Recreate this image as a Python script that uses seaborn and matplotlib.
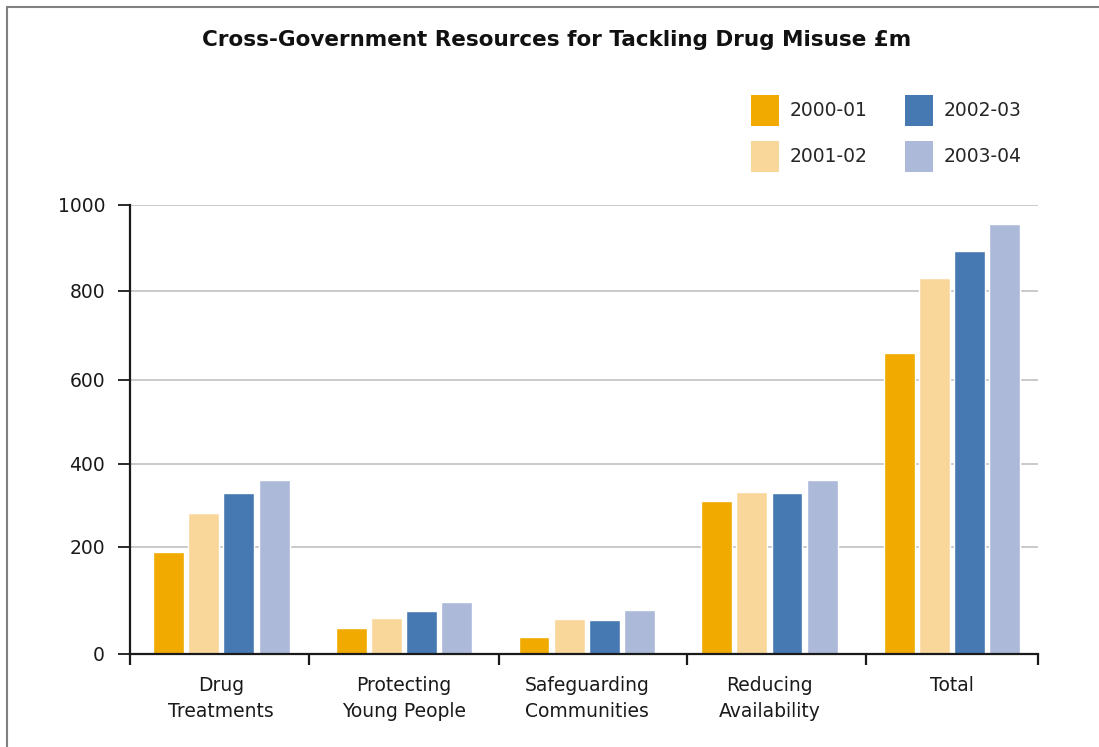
import numpy as np
import pandas as pd
import matplotlib
matplotlib.use("Agg")
import matplotlib.pyplot as plt
import seaborn as sns
from matplotlib.patches import Patch
from matplotlib.lines import Line2D

# ---- data ----
categories = ["Drug\nTreatments", "Protecting\nYoung People", "Safeguarding\nCommunities",
              "Reducing\nAvailability", "Total"]
years = ["2000-01", "2001-02", "2002-03", "2003-04"]
v_2000_01 = [190, 48, 31, 310, 660]
v_2001_02 = [280, 66, 64, 332, 830]
v_2002_03 = [330, 79, 63, 330, 893]
v_2003_04 = [360, 96, 81, 360, 955]
colors = ["#F0AA00", "#F9D79B", "#4678B2", "#ADB9D9"]
y_ticks = [0, 200, 400, 600, 800, 1000]
title = "Cross-Government Resources for Tackling Drug Misuse £m"

# the reference's value axis is drawn with uneven gridline spacing
grid_pos = [0, 107, 190, 274, 363, 448.5]
# group divider tick positions as drawn in the reference
dividers = [-0.5, 0.48, 1.52, 2.55, 3.53, 4.47]

series = [v_2000_01, v_2001_02, v_2002_03, v_2003_04]
df = pd.DataFrame({
    "category": [c for s in series for c in categories],
    "year": [y for y, s in zip(years, series) for _ in s],
    "value": [v for s in series for v in s],
})


def _pw(x, xs, ys):
    x = np.asarray(x, float)
    y = np.interp(x, xs, ys)
    s0 = (ys[1] - ys[0]) / (xs[1] - xs[0])
    s1 = (ys[-1] - ys[-2]) / (xs[-1] - xs[-2])
    y = np.where(x < xs[0], ys[0] + (x - xs[0]) * s0, y)
    y = np.where(x > xs[-1], ys[-1] + (x - xs[-1]) * s1, y)
    return y


def fwd(v):
    return _pw(v, y_ticks, grid_pos)


def inv(p):
    return _pw(p, grid_pos, y_ticks)


sns.set_theme(style="white")
plt.rcParams["font.family"] = ["DejaVu Sans"]

FS = 13.5

fig = plt.figure(figsize=(10.99, 7.47), dpi=100)
ax = fig.add_axes([130 / 1099, 93.5 / 747, 908 / 1099, 448.5 / 747])

sns.barplot(data=df, x="category", y="value", hue="year", hue_order=years,
            order=categories, palette=colors, width=0.77, gap=0.12,
            saturation=1, legend=False, ax=ax)

ax.set_yscale("function", functions=(fwd, inv))
ax.set_ylim(0, 1000)
ax.set_yticks(y_ticks)
ax.set_yticklabels([str(t) for t in y_ticks])
ax.yaxis.set_minor_locator(matplotlib.ticker.NullLocator())
ax.set_xlim(dividers[0], dividers[-1])
ax.set_xticks(range(len(categories)))
ax.set_xticklabels(categories, linespacing=1.5)
ax.set_xticks(dividers, minor=True)
ax.set_xlabel("")
ax.set_ylabel("")

ax.set_axisbelow(True)
ax.yaxis.grid(True, color="#c6c6c6", lw=1.3)
ax.xaxis.grid(False)
for s in ["top", "right"]:
    ax.spines[s].set_visible(False)
for s in ["left", "bottom"]:
    ax.spines[s].set_color("#1a1a1a")
    ax.spines[s].set_linewidth(1.6)

ax.tick_params(axis="x", which="major", length=0, pad=16, labelsize=FS,
               labelcolor="#1a1a1a", bottom=True)
ax.tick_params(axis="x", which="minor", length=8, width=1.6, color="#1a1a1a",
               direction="out", bottom=True)
ax.tick_params(axis="y", which="major", length=9, width=1.3, color="#1a1a1a", pad=9,
               labelsize=FS, labelcolor="#1a1a1a", left=True)

fig.text(557 / 1099, 1 - 40 / 747, title, ha="center", va="center",
         fontsize=15.5, fontweight="bold", color="#111111",
         family=["DejaVu Sans"])

handles = [Patch(facecolor=c, edgecolor="none", label=y) for c, y in zip(colors, years)]
fig.legend(handles=handles, ncol=2, loc="upper left",
           bbox_to_anchor=(751 / 1099, 1 - 95 / 747), frameon=False,
           fontsize=FS, handlelength=1.47, handleheight=2.17, handletextpad=0.6,
           columnspacing=2.0, labelspacing=0.8, borderpad=0, borderaxespad=0)

# grey frame on left and top edges
fig.add_artist(Line2D([7 / 1099, 7 / 1099], [0, 1 - 7 / 747], transform=fig.transFigure,
                      color="#808080", lw=1.5))
fig.add_artist(Line2D([7 / 1099, 1], [1 - 7 / 747, 1 - 7 / 747], transform=fig.transFigure,
                      color="#808080", lw=1.5))

fig.savefig("out.png", dpi=100)
